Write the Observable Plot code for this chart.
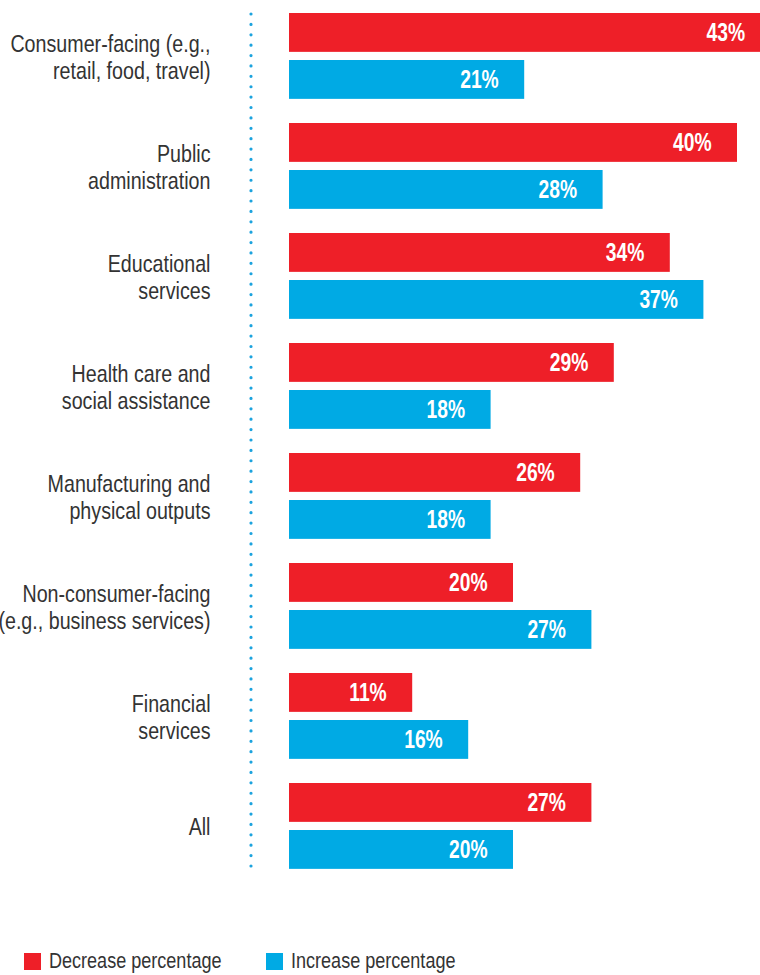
<!DOCTYPE html>
<html>
<head>
<meta charset="utf-8">
<script src="https://cdn.jsdelivr.net/npm/d3@7"></script>
<script src="https://cdn.jsdelivr.net/npm/@observablehq/plot@0.6"></script>
<style>
  html, body { margin: 0; padding: 0; background: #fff; overflow: hidden; }
  body { width: 760px; font-family: "Liberation Sans", Arial, sans-serif; }
  #legend { position: relative; height: 75px; font-size: 22px; color: #333; }
  #legend .sw { position: absolute; top: 53px; width: 17px; height: 17px; }
  #legend .lab { position: absolute; top: 47px; line-height: 28px; white-space: nowrap; transform: scaleX(0.82); transform-origin: left center; }
</style>
</head>
<body>
<div id="chart"></div>
<div id="legend"></div>
<script>
const industries = [
  "Consumer-facing (e.g.,\nretail, food, travel)",
  "Public\nadministration",
  "Educational\nservices",
  "Health care and\nsocial assistance",
  "Manufacturing and\nphysical outputs",
  "Non-consumer-facing\n(e.g., business services)",
  "Financial\nservices",
  "All"
];
const decrease = [43, 40, 34, 29, 26, 20, 11, 27];
const increase = [21, 28, 37, 18, 18, 27, 16, 20];
const seriesNames = ["Decrease percentage", "Increase percentage"];
const seriesColors = ["#ee1f28", "#00aae4"];

const rows = [];
industries.forEach((ind, i) => {
  rows.push({industry: ind, series: seriesNames[0], value: decrease[i]});
  rows.push({industry: ind, series: seriesNames[1], value: increase[i]});
});
const dec = rows.filter(d => d.series === seriesNames[0]);
const inc = rows.filter(d => d.series === seriesNames[1]);

const step = 110.14;
const font = `"Liberation Sans", Arial, sans-serif`;

const chart = Plot.plot({
  width: 760,
  height: 900,
  marginLeft: 289,
  marginRight: 0,
  marginTop: 0,
  marginBottom: 900 - step * industries.length,
  style: {fontFamily: font, background: "white", overflow: "visible"},
  x: {domain: [0, 471 / 11.2], axis: null},
  y: {domain: industries, padding: 0, axis: null},
  color: {domain: seriesNames, range: seriesColors},
  marks: [
    Plot.ruleX([0], {dx: -38.5, stroke: "#1ca3de", strokeWidth: 3.2, strokeDasharray: "0 10.39", strokeLinecap: "round", insetTop: 14, insetBottom: 13}),
    Plot.barX(dec, {x: "value", y: "industry", fill: "series", insetTop: 12, insetBottom: step - 51}),
    Plot.barX(inc, {x: "value", y: "industry", fill: "series", insetTop: 59, insetBottom: step - 98}),
    Plot.text(dec, {x: "value", y: "industry", text: d => d.value + "%", dx: -26, dy: 31.5 - step / 2, textAnchor: "end", fill: "white", fontWeight: "bold", fontSize: 25}),
    Plot.text(inc, {x: "value", y: "industry", text: d => d.value + "%", dx: -26, dy: 78.5 - step / 2, textAnchor: "end", fill: "white", fontWeight: "bold", fontSize: 25}),
    Plot.text(industries, {y: d => d, text: d => d, frameAnchor: "left", dx: -79, textAnchor: "end", fill: "#333", fontSize: 24, lineHeight: 1.125})
  ]
});
// condensed look: squeeze each text horizontally around its own anchor
d3.select(chart).selectAll('g[aria-label="text"]').each(function() {
  const s = this.getAttribute("font-weight") === "bold" ? 0.77 : 0.82;
  d3.select(this).selectAll("text").each(function() {
    let t = this.getAttribute("transform");
    if (!t) {
      const x = +this.getAttribute("x") || 0, y = +this.getAttribute("y") || 0;
      this.removeAttribute("x"); this.removeAttribute("y");
      t = `translate(${x},${y})`;
    }
    this.setAttribute("transform", `${t} scale(${s},1)`);
  });
});
document.getElementById("chart").appendChild(chart);

const legend = document.getElementById("legend");
const lefts = [24, 266];
seriesNames.forEach((name, i) => {
  const sw = document.createElement("div");
  sw.className = "sw";
  sw.style.left = lefts[i] + "px";
  sw.style.background = seriesColors[i];
  const label = document.createElement("span");
  label.className = "lab";
  label.style.left = (lefts[i] + 25) + "px";
  label.textContent = name;
  legend.appendChild(sw);
  legend.appendChild(label);
});
</script>
</body>
</html>
